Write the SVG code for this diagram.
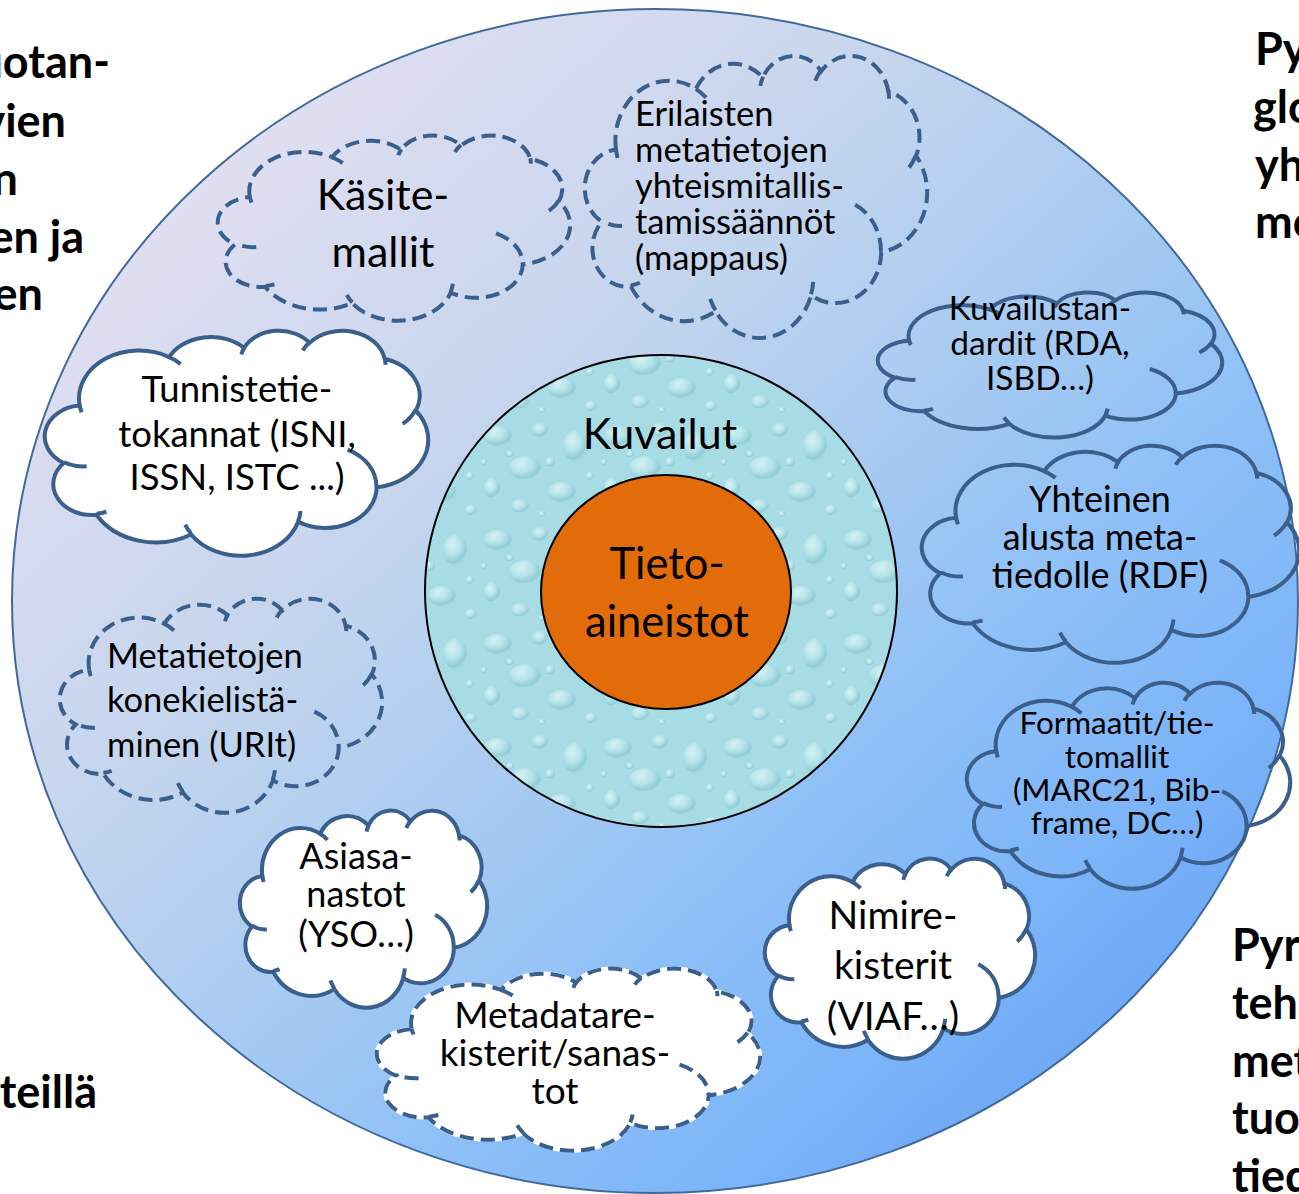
<svg xmlns="http://www.w3.org/2000/svg" width="1299" height="1194" viewBox="0 0 1299 1194">
<style>
.t{font-family:Lato,"Open Sans","DejaVu Sans",sans-serif;fill:#000}
.b{font-family:Lato,"Open Sans","DejaVu Sans",sans-serif;font-weight:bold;font-size:45px;fill:#000}
.c{text-anchor:middle}
.dash{fill:none;stroke:#3B5F8C;stroke-width:4;stroke-dasharray:14 7}
.solid{fill:none;stroke:#3B5F8C;stroke-width:4}
.wsolid{fill:#fff;stroke:#3B5F8C;stroke-width:4}
.wfill{fill:#fff;stroke:#fff;stroke-width:4}
</style>
<defs>
<linearGradient id="bg" x1="0" y1="0" x2="1" y2="1">
<stop offset="0" stop-color="#ECE4F3"/>
<stop offset="0.15" stop-color="#E0DEF1"/>
<stop offset="0.37" stop-color="#C4D5EE"/>
<stop offset="0.5" stop-color="#ABCCF0"/>
<stop offset="0.65" stop-color="#8EC0F7"/>
<stop offset="0.78" stop-color="#7BB4F8"/>
<stop offset="0.9" stop-color="#68A2F4"/>
<stop offset="1" stop-color="#5A94EE"/>
</linearGradient>
<radialGradient id="drop" cx="0.38" cy="0.32" r="0.7">
<stop offset="0" stop-color="#D6F2F5"/>
<stop offset="0.5" stop-color="#B4E3E9"/>
<stop offset="0.85" stop-color="#93CDD7"/>
<stop offset="1" stop-color="#A6DBE3"/>
</radialGradient>
<pattern id="drops" width="120" height="104" patternUnits="userSpaceOnUse">
<rect width="120" height="104" fill="#A8DCE4"/>
<ellipse cx="18" cy="20" rx="14" ry="10" fill="url(#drop)"/>
<ellipse cx="60" cy="14" rx="8" ry="7" fill="url(#drop)"/>
<ellipse cx="95" cy="30" rx="12" ry="15" fill="url(#drop)"/>
<ellipse cx="45" cy="52" rx="16" ry="12" fill="url(#drop)"/>
<ellipse cx="12" cy="72" rx="8" ry="10" fill="url(#drop)"/>
<ellipse cx="82" cy="76" rx="14" ry="10" fill="url(#drop)"/>
<ellipse cx="111" cy="94" rx="6" ry="5" fill="url(#drop)"/>
<ellipse cx="40" cy="90" rx="9" ry="7" fill="url(#drop)"/>
<circle cx="70" cy="46" r="5" fill="url(#drop)"/>
<circle cx="110" cy="60" r="4" fill="url(#drop)"/>
<circle cx="30" cy="38" r="3.5" fill="url(#drop)"/>
<circle cx="62" cy="98" r="3" fill="url(#drop)"/>
<circle cx="4" cy="46" r="3" fill="url(#drop)"/>
</pattern>
<path id="co" vector-effect="non-scaling-stroke" d="M9.03,33.26 A15.63,21.27 0 0 1 32.42,12.04 A12.34,16.82 0 0 1 51.98,7.94 A10.10,13.76 0 0 1 69.06,5.74 A11.24,15.27 0 0 1 88.70,12.90 A12.34,16.84 0 0 1 96.81,35.78 A15.68,21.34 0 0 1 86.59,69.91 A13.39,18.21 0 0 1 66.10,85.21 A15.63,21.33 0 0 1 38.15,90.89 A17.87,24.41 0 0 1 13.44,82.11 A10.09,13.70 0 0 1 4.90,59.13 A10.06,13.76 0 0 1 8.94,33.57 Z"/>
<path id="ci" vector-effect="non-scaling-stroke" d="M10.86,60.59 A10.06,13.76 0 0 1 5.00,58.75 M16.04,80.78 A10.09,13.70 0 0 1 13.47,81.67 M38.14,90.49 A15.63,21.33 0 0 1 36.60,86.45 M66.73,80.44 A15.63,21.33 0 0 1 66.11,84.86 M79.00,53.13 A13.39,18.21 0 0 1 86.53,69.65 M96.75,35.54 A12.34,16.84 0 0 1 93.40,41.74 M88.71,12.56 A11.24,15.27 0 0 1 88.89,15.49 M67.31,9.15 A11.24,15.27 0 0 1 69.03,5.42 M51.25,10.93 A10.10,13.76 0 0 1 52.08,7.71 M32.41,12.02 A15.63,21.27 0 0 1 35.42,15.14 M9.55,36.55 A15.63,21.27 0 0 1 9.03,33.27"/>
</defs>
<rect width="1299" height="1194" fill="#fff"/>

<g id="side-texts">
<text class="b" text-anchor="end" x="110" y="78">uotan-</text>
<text class="b" text-anchor="end" x="66" y="137">vien</text>
<text class="b" text-anchor="end" x="18" y="195">n</text>
<text class="b" text-anchor="end" x="84" y="253">en ja</text>
<text class="b" text-anchor="end" x="43" y="310">en</text>
<text class="b" text-anchor="end" x="97" y="1108">teillä</text>
<text class="b" x="1255" y="65">Py</text>
<text class="b" x="1253" y="123">glo</text>
<text class="b" x="1255" y="181">yh</text>
<text class="b" x="1255" y="238">me</text>
<text class="b" x="1232" y="961">Pyr</text>
<text class="b" x="1232" y="1019">teh</text>
<text class="b" x="1232" y="1077">met</text>
<text class="b" x="1232" y="1134">tuo</text>
<text class="b" x="1232" y="1192">tied</text>
</g>

<g id="outer-circle">
<ellipse cx="655" cy="601" rx="643" ry="592" fill="url(#bg)" stroke="#41699A" stroke-width="2"/>
</g>

<g id="kuvailut">
<circle cx="661" cy="591" r="236" fill="url(#drops)" stroke="#000" stroke-width="2"/>
<text class="t c" x="660" y="449" font-size="43">Kuvailut</text>
</g>

<g id="tietoaineistot">
<ellipse cx="666" cy="592" rx="125" ry="117" fill="#E36C0A" stroke="#000" stroke-width="2"/>
<text class="t c" x="667" y="579" font-size="43.5">Tieto-</text>
<text class="t c" x="667" y="637" font-size="43.5">aineistot</text>
</g>

<g id="kasitemallit">
<g transform="translate(218,135) scale(3.52,1.85)"><use href="#co" class="dash"/><use href="#ci" class="dash"/></g>
<text class="t c" x="383" y="210" font-size="43">Käsite-</text>
<text class="t c" x="383" y="267" font-size="43">mallit</text>
</g>

<g id="erilaisten">
<g transform="translate(585,55) scale(3.42,2.82)"><use href="#co" class="dash"/><use href="#ci" class="dash"/></g>
<g class="t" font-size="34.5">
<text x="635" y="126">Erilaisten</text>
<text x="635" y="162">metatietojen</text>
<text x="635" y="198">yhteismitallis-</text>
<text x="635" y="234">tamissäännöt</text>
<text x="635" y="270">(mappaus)</text>
</g>
</g>

<g id="kuvailustandardit">
<g transform="translate(878,292) scale(3.44,1.45)"><use href="#co" class="solid"/><use href="#ci" class="solid"/></g>
<g class="t c" font-size="33.5">
<text x="1040" y="320">Kuvailustan-</text>
<text x="1040" y="355">dardit (RDA,</text>
<text x="1040" y="390">ISBD…)</text>
</g>
</g>

<g id="tunnistetietokannat">
<g transform="translate(45,330) scale(3.83,2.25)"><use href="#co" class="wsolid"/><use href="#ci" class="solid"/></g>
<g class="t c" font-size="36.5">
<text x="237" y="402">Tunnistetie-</text>
<text x="237" y="447">tokannat (ISNI,</text>
<text x="237" y="490">ISSN, ISTC ...)</text>
</g>
</g>

<g id="yhteinen">
<g transform="translate(922,445) scale(3.77,2.17)"><use href="#co" class="solid"/><use href="#ci" class="solid"/></g>
<g class="t c" font-size="36">
<text x="1100" y="512">Yhteinen</text>
<text x="1100" y="550">alusta meta-</text>
<text x="1100" y="588">tiedolle (RDF)</text>
</g>
</g>

<g id="metatietojen">
<g transform="translate(60,598) scale(3.22,2.14)"><use href="#co" class="dash"/><use href="#ci" class="dash"/></g>
<g class="t" font-size="34.5">
<text x="107" y="668">Metatietojen</text>
<text x="107" y="712">konekielistä-</text>
<text x="107" y="757">minen (URIt)</text>
</g>
</g>

<g id="formaatit">
<g transform="translate(967,682) scale(3.23,2.06)"><use href="#co" class="solid"/><use href="#ci" class="solid"/></g>
<g class="t c" font-size="31.5">
<text x="1117" y="734">Formaatit/tie-</text>
<text x="1117" y="768">tomallit</text>
<text x="1117" y="801">(MARC21, Bib-</text>
<text x="1117" y="834">frame, DC…)</text>
</g>
</g>

<g id="asiasanastot">
<g transform="translate(240,810) scale(2.47,1.97)"><use href="#co" class="wsolid"/><use href="#ci" class="solid"/></g>
<g class="t c" font-size="36">
<text x="356" y="869">Asiasa-</text>
<text x="356" y="907">nastot</text>
<text x="356" y="947">(YSO…)</text>
</g>
</g>

<g id="nimirekisterit">
<g transform="translate(765,858) scale(2.70,2.00)"><use href="#co" class="wsolid"/><use href="#ci" class="solid"/></g>
<g class="t c" font-size="39">
<text x="893" y="929">Nimire-</text>
<text x="893" y="979">kisterit</text>
<text x="893" y="1030">(VIAF…)</text>
</g>
</g>

<g id="metadatarekisterit">
<g transform="translate(377,968) scale(3.83,1.82)"><use href="#co" class="wfill"/><use href="#co" class="dash"/><use href="#ci" class="dash"/></g>
<g class="t c" font-size="37">
<text x="555" y="1028">Metadatare-</text>
<text x="555" y="1066">kisterit/sanas-</text>
<text x="555" y="1104">tot</text>
</g>
</g>
</svg>
